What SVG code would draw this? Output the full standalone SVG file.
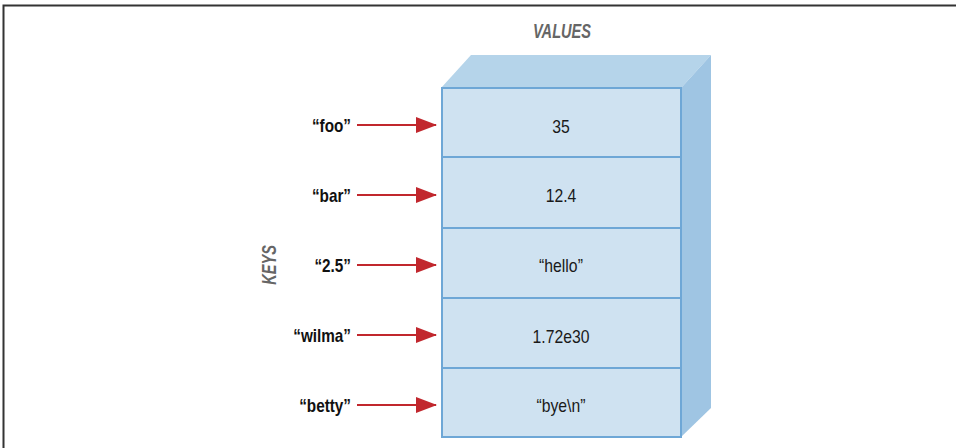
<svg xmlns="http://www.w3.org/2000/svg" width="956" height="448" viewBox="0 0 956 448">
<defs>
<style>
.key{font-family:"Liberation Sans",Arial,sans-serif;font-weight:bold;font-size:18px;fill:#111;text-anchor:end}
.val{font-family:"Liberation Sans",Arial,sans-serif;font-size:19px;fill:#1a1a1a;text-anchor:middle}
.title{font-family:"Liberation Sans",Arial,sans-serif;font-weight:bold;font-style:italic;font-size:20px;fill:#666;text-anchor:middle}
.cell{fill:#cfe2f1;stroke:#6ea7d6;stroke-width:2}
.arrow{stroke:#c1272d;stroke-width:2.2;fill:none;marker-end:url(#ah)}
</style>
<marker id="ah" markerWidth="22" markerHeight="16" refX="20" refY="8" orient="auto" markerUnits="userSpaceOnUse">
<path d="M0,0 L21,8 L0,16 Z" fill="#c1272d"/>
</marker>
</defs>
<rect width="956" height="448" fill="#fff"/>
<path d="M3.5,448 V5.5 H956" fill="none" stroke="#333" stroke-width="2"/>
<text class="title" transform="translate(562,38) scale(0.73,1)">VALUES</text>
<text class="title" transform="translate(276,265) rotate(-90) scale(0.73,1)">KEYS</text>
<g id="box">
<polygon points="441,88 471,55 711,55 681,88" fill="#b5d4ea"/>
<polygon points="681,88 711,55 711,408 681,437" fill="#9fc5e3"/>
</g>
<g id="v0"><rect class="cell" x="442" y="88" width="239" height="69"/><text class="val" transform="translate(561,133) scale(0.83,1)">35</text></g>
<g id="v1"><rect class="cell" x="442" y="157" width="239" height="71"/><text class="val" transform="translate(561,202) scale(0.83,1)">12.4</text></g>
<g id="v2"><rect class="cell" x="442" y="228" width="239" height="70"/><text class="val" transform="translate(561,272) scale(0.83,1)">“hello”</text></g>
<g id="v3"><rect class="cell" x="442" y="298" width="239" height="70"/><text class="val" transform="translate(561,343) scale(0.83,1)">1.72e30</text></g>
<g id="v4"><rect class="cell" x="442" y="368" width="239" height="69"/><text class="val" transform="translate(561,412) scale(0.83,1)">“bye\n”</text></g>
<g id="k0"><text class="key" transform="translate(351,132) scale(0.85,1)">“foo”</text></g>
<g id="k1"><text class="key" transform="translate(351,202) scale(0.85,1)">“bar”</text></g>
<g id="k2"><text class="key" transform="translate(351,272) scale(0.85,1)">“2.5”</text></g>
<g id="k3"><text class="key" transform="translate(351,342) scale(0.85,1)">“wilma”</text></g>
<g id="k4"><text class="key" transform="translate(351,412) scale(0.85,1)">“betty”</text></g>
<g id="connectors">
<line class="arrow" x1="357" y1="125" x2="436" y2="125"/>
<line class="arrow" x1="357" y1="195" x2="436" y2="195"/>
<line class="arrow" x1="357" y1="265" x2="436" y2="265"/>
<line class="arrow" x1="357" y1="335" x2="436" y2="335"/>
<line class="arrow" x1="357" y1="405" x2="436" y2="405"/>
</g>
</svg>
